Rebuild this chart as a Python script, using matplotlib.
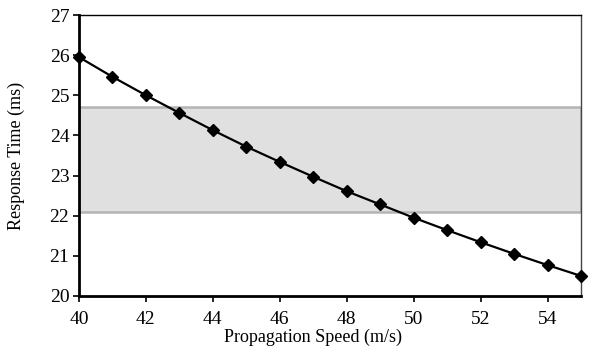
import matplotlib
matplotlib.use("Agg")
import matplotlib.pyplot as plt

speed = [40, 41, 42, 43, 44, 45, 46, 47, 48, 49, 50, 51, 52, 53, 54, 55]
response = [25.95, 25.46, 25.0, 24.56, 24.13, 23.72, 23.34, 22.97, 22.61, 22.28,
            21.95, 21.64, 21.34, 21.05, 20.77, 20.5]
band_low, band_high = 22.1, 24.72
xticks = [40, 42, 44, 46, 48, 50, 52, 54]
yticks = [20, 21, 22, 23, 24, 25, 26, 27]

plt.rcParams['font.family'] = ['Liberation Serif', 'DejaVu Serif']

fig = plt.figure(figsize=(5.9, 3.48), dpi=100)
ax = fig.add_axes([79/590, 1-296/348, (581-79)/590, (296-15)/348])

ax.axhspan(band_low, band_high, facecolor='#e0e0e0', edgecolor='#b4b4b4', linewidth=1.8, zorder=1)
ax.plot(speed, response, color='black', linewidth=1.6, marker='D', markersize=6,
        markerfacecolor='black', markeredgecolor='black', zorder=3, clip_on=False)

ax.set_xlim(40, 55)
ax.set_ylim(20, 27)
ax.set_xticks(xticks)
ax.set_yticks(yticks)
ax.tick_params(axis='both', direction='out', length=4, width=1.2, labelsize=14, colors='black')
ax.tick_params(axis='x', pad=7)
ax.tick_params(axis='y', pad=3)
ax.spines['left'].set_linewidth(2.0)
ax.spines['bottom'].set_linewidth(2.0)
ax.spines['top'].set_linewidth(1.0)
ax.spines['right'].set_linewidth(1.0)
ax.spines['right'].set_color('#444444')
ax.set_xlabel('Propagation Speed (m/s)', fontsize=13)
ax.set_ylabel('Response Time (ms)', fontsize=13)
ax.xaxis.set_label_coords(0.466, -0.118)
ax.yaxis.set_label_coords(-0.108, 0.5)

fig.savefig('out.png', dpi=100)
